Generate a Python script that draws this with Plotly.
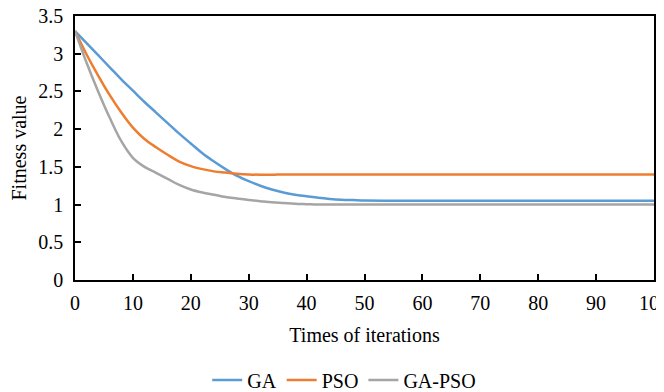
import plotly.graph_objects as go

iterations = [0, 2, 4, 6, 8, 10, 12, 14, 16, 18, 20, 22, 24, 26, 28, 30, 32, 34, 36, 38, 40,
              42, 44, 46, 48, 50, 55, 60, 70, 80, 90, 100]
ga = [3.30, 3.14, 2.98, 2.82, 2.66, 2.51, 2.36, 2.22, 2.08, 1.94, 1.81, 1.68, 1.57, 1.47, 1.38,
      1.31, 1.25, 1.20, 1.16, 1.13, 1.11, 1.09, 1.075, 1.065, 1.06, 1.055, 1.05, 1.05, 1.05, 1.05, 1.05, 1.05]
pso = [3.30, 2.99, 2.71, 2.45, 2.22, 2.02, 1.87, 1.76, 1.66, 1.57, 1.51, 1.47, 1.44, 1.425, 1.41,
       1.40, 1.395, 1.395, 1.40, 1.40, 1.40, 1.40, 1.40, 1.40, 1.40, 1.40, 1.40, 1.40, 1.40, 1.40, 1.40, 1.40]
ga_pso = [3.30, 2.88, 2.50, 2.15, 1.84, 1.62, 1.50, 1.42, 1.34, 1.26, 1.20, 1.16, 1.13, 1.10, 1.08,
          1.06, 1.045, 1.03, 1.02, 1.01, 1.005, 1.00, 1.00, 1.00, 1.00, 1.00, 1.00, 1.00, 1.00, 1.00, 1.00, 1.00]

series = [("GA", ga, "#5B9BD5"), ("PSO", pso, "#ED7D31"), ("GA-PSO", ga_pso, "#A5A5A5")]

fig = go.Figure()
for name, vals, col in series:
    fig.add_trace(go.Scatter(x=iterations, y=vals, name=name, mode="lines",
                             line=dict(color=col, width=2.5, shape="spline", smoothing=1.0)))

font = dict(family="Liberation Serif, Times New Roman, serif", size=20, color="#000")
axis_common = dict(showgrid=False, zeroline=False, showline=True, linecolor="#000", linewidth=1.5,
                   mirror=True, ticks="inside", ticklen=6, tickwidth=1.5, tickcolor="#000",
                   tickfont=font, automargin=False, ticklabeloverflow="allow")
fig.update_xaxes(range=[0, 100], dtick=10, tick0=0, ticklabelstandoff=4,
                 title=dict(text="Times of iterations", font=font, standoff=15), **axis_common)
fig.update_yaxes(range=[0, 3.5], dtick=0.5, tick0=0, ticklabelstandoff=6,
                 title=dict(text="Fitness value", font=font, standoff=16), **axis_common)

fig.update_layout(
    width=656, height=384,
    margin=dict(l=67, r=10, t=8, b=112, autoexpand=False),
    plot_bgcolor="white", paper_bgcolor="white",
    font=font,
    legend=dict(orientation="h", x=0.465, xanchor="center", y=-0.305, yanchor="top",
                font=font, itemwidth=30, tracegroupgap=0),
)

fig.write_html("out.html")
